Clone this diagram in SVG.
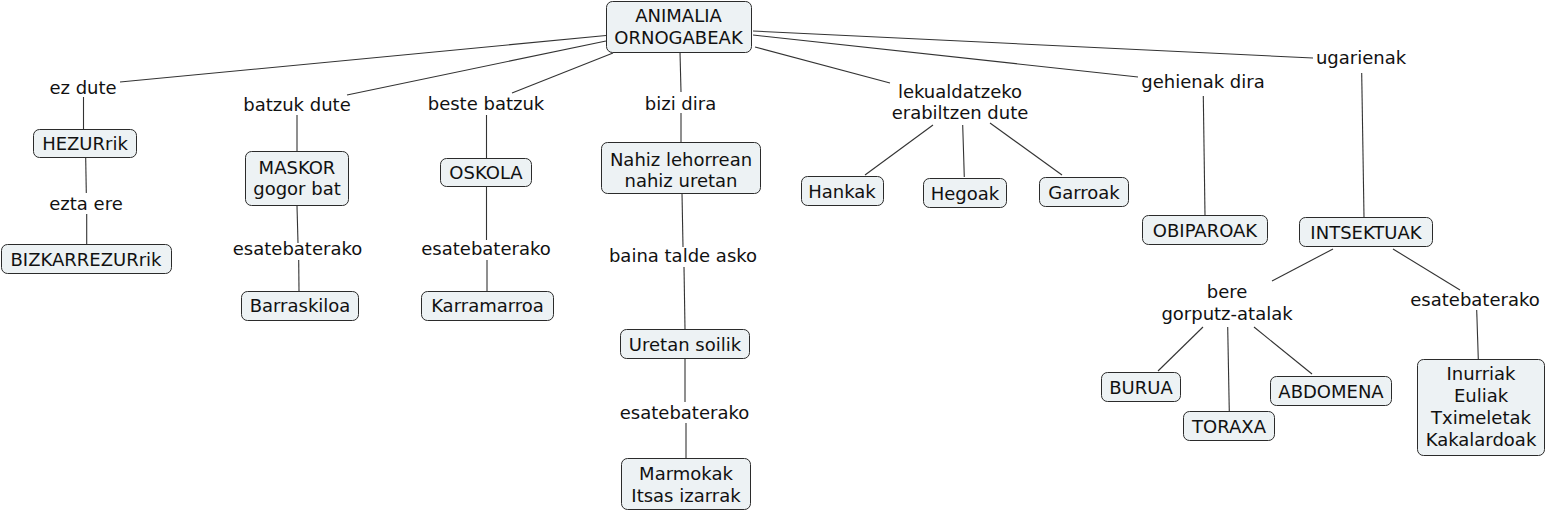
<svg xmlns="http://www.w3.org/2000/svg" width="1547" height="512" viewBox="0 0 1547 512">
<style>
.n rect{fill:#edf2f4;stroke:#2b2b2b;stroke-width:1}
text{font-family:"DejaVu Sans",Verdana,sans-serif;font-size:18px;fill:#111;text-anchor:middle}
.c line{stroke:#333;stroke-width:1.1}
</style>
<rect width="1547" height="512" fill="#fff"/>
<g class="c">
<line x1="606" y1="35.5" x2="120" y2="82"/>
<line x1="606" y1="41" x2="347" y2="95"/>
<line x1="613" y1="53" x2="512" y2="93"/>
<line x1="680" y1="52" x2="681" y2="92"/>
<line x1="755" y1="47" x2="890" y2="83"/>
<line x1="753" y1="35" x2="1138" y2="77"/>
<line x1="753" y1="31" x2="1313" y2="58"/>
<line x1="83.5" y1="97" x2="83.5" y2="129"/>
<line x1="85.7" y1="158" x2="86.3" y2="193"/>
<line x1="86.7" y1="214" x2="86.7" y2="244"/>
<line x1="297" y1="115" x2="297" y2="151"/>
<line x1="297" y1="206" x2="298" y2="243"/>
<line x1="298.7" y1="260" x2="299" y2="291"/>
<line x1="486.5" y1="115" x2="486.5" y2="158"/>
<line x1="486.5" y1="187" x2="486.5" y2="240"/>
<line x1="487" y1="260" x2="487" y2="291"/>
<line x1="681" y1="113" x2="681" y2="142"/>
<line x1="682" y1="193" x2="683" y2="247"/>
<line x1="684" y1="267" x2="685" y2="329"/>
<line x1="685" y1="358" x2="685" y2="402"/>
<line x1="686" y1="423" x2="686" y2="458"/>
<line x1="933" y1="125" x2="865" y2="175"/>
<line x1="962.7" y1="125" x2="964.3" y2="177"/>
<line x1="990" y1="123" x2="1062" y2="175"/>
<line x1="1203.3" y1="96" x2="1205" y2="215"/>
<line x1="1361.7" y1="73" x2="1364" y2="217"/>
<line x1="1333" y1="249" x2="1272" y2="281"/>
<line x1="1393" y1="249" x2="1460" y2="290"/>
<line x1="1203" y1="327" x2="1158" y2="371"/>
<line x1="1227.7" y1="327" x2="1229.3" y2="412"/>
<line x1="1254" y1="327" x2="1312" y2="374"/>
<line x1="1476.7" y1="310" x2="1478.3" y2="359"/>
</g>
<g id="labels">
<text x="83" y="94">ez dute</text>
<text x="297" y="111">batzuk dute</text>
<text x="486" y="110">beste batzuk</text>
<text x="680.5" y="110">bizi dira</text>
<text x="86" y="210">ezta ere</text>
<text x="297.5" y="255">esatebaterako</text>
<text x="486" y="255">esatebaterako</text>
<text x="683" y="262">baina talde asko</text>
<text x="684.5" y="419">esatebaterako</text>
<text x="960" y="98">lekualdatzeko</text>
<text x="960" y="119">erabiltzen dute</text>
<text x="1203" y="88">gehienak dira</text>
<text x="1361" y="63.5">ugarienak</text>
<text x="1227" y="298">bere</text>
<text x="1227" y="320">gorputz-atalak</text>
<text x="1475" y="306">esatebaterako</text>
</g>
<g id="n-animalia" class="n"><rect x="606.5" y="1.5" width="145" height="51" rx="6"/><text x="678.5" y="22">ANIMALIA</text><text x="678.5" y="44">ORNOGABEAK</text></g>
<g id="n-hezur" class="n"><rect x="33.5" y="129.5" width="103" height="28" rx="6"/><text x="85" y="150">HEZURrik</text></g>
<g id="n-bizkar" class="n"><rect x="1.5" y="244.5" width="170" height="29" rx="6"/><text x="86" y="266">BIZKARREZURrik</text></g>
<g id="n-maskor" class="n"><rect x="245.5" y="151.5" width="103" height="54" rx="6"/><text x="297" y="174">MASKOR</text><text x="297" y="195">gogor bat</text></g>
<g id="n-barraskiloa" class="n"><rect x="241.5" y="291.5" width="117" height="29" rx="6"/><text x="300" y="312">Barraskiloa</text></g>
<g id="n-oskola" class="n"><rect x="440.5" y="158.5" width="91" height="28" rx="6"/><text x="486" y="178.5">OSKOLA</text></g>
<g id="n-karramarroa" class="n"><rect x="421.5" y="291.5" width="132" height="29" rx="6"/><text x="487.5" y="312">Karramarroa</text></g>
<g id="n-nahiz" class="n"><rect x="601.5" y="142.5" width="159" height="51" rx="6"/><text x="681" y="165.5">Nahiz lehorrean</text><text x="681" y="187">nahiz uretan</text></g>
<g id="n-uretan" class="n"><rect x="620.5" y="329.5" width="129" height="29" rx="6"/><text x="685" y="350.5">Uretan soilik</text></g>
<g id="n-marmokak" class="n"><rect x="621.5" y="458.5" width="129" height="51" rx="6"/><text x="686" y="479.5">Marmokak</text><text x="686" y="501.5">Itsas izarrak</text></g>
<g id="n-hankak" class="n"><rect x="801.5" y="176.5" width="82" height="29" rx="6"/><text x="842" y="197.5">Hankak</text></g>
<g id="n-hegoak" class="n"><rect x="923.5" y="178.5" width="83" height="29" rx="6"/><text x="965" y="199.5">Hegoak</text></g>
<g id="n-garroak" class="n"><rect x="1039.5" y="177.5" width="89" height="29" rx="6"/><text x="1084" y="198.5">Garroak</text></g>
<g id="n-obiparoak" class="n"><rect x="1142.5" y="215.5" width="125" height="29" rx="6"/><text x="1205" y="236.5">OBIPAROAK</text></g>
<g id="n-intsektuak" class="n"><rect x="1299.5" y="217.5" width="133" height="29" rx="6"/><text x="1366" y="238.5">INTSEKTUAK</text></g>
<g id="n-burua" class="n"><rect x="1101.5" y="372.5" width="79" height="29" rx="6"/><text x="1141" y="393.5">BURUA</text></g>
<g id="n-toraxa" class="n"><rect x="1183.5" y="411.5" width="91" height="29" rx="6"/><text x="1229" y="432.5">TORAXA</text></g>
<g id="n-abdomena" class="n"><rect x="1270.5" y="376.5" width="121" height="29" rx="6"/><text x="1331" y="397.5">ABDOMENA</text></g>
<g id="n-inurriak" class="n"><rect x="1417.5" y="359.5" width="127" height="96" rx="6"/><text x="1481" y="380">Inurriak</text><text x="1481" y="402">Euliak</text><text x="1481" y="424">Tximeletak</text><text x="1481" y="446">Kakalardoak</text></g>
</svg>
